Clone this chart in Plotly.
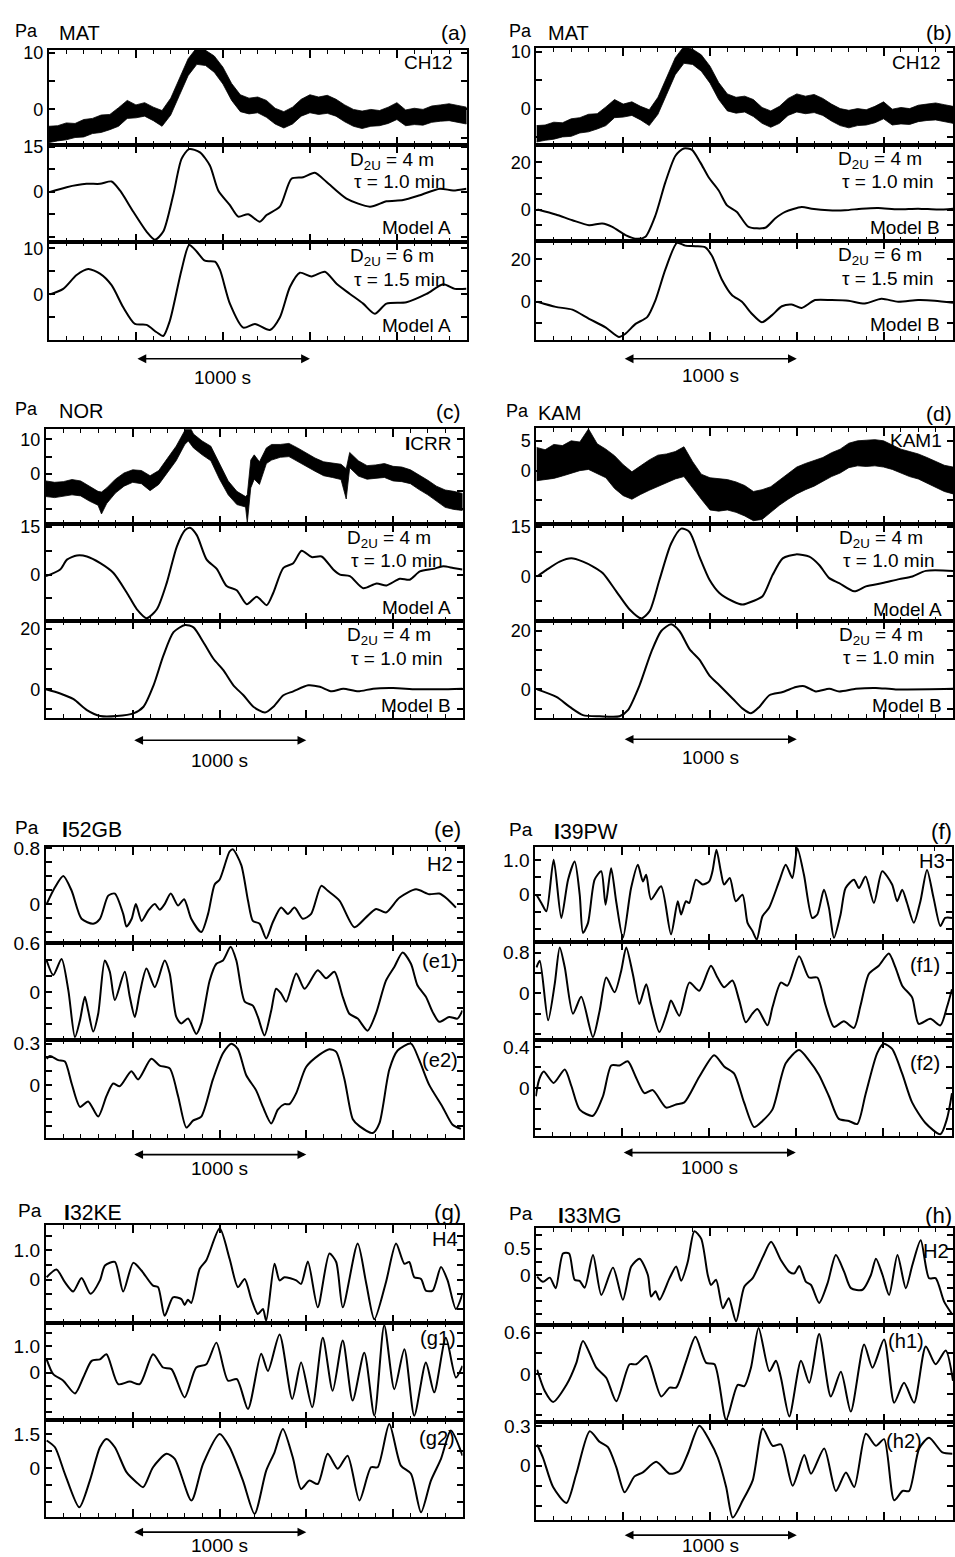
import plotly.graph_objects as go

# page geometry (reference picture is 955 x 1557)
W, H = 955, 1557
OFF = 0

# ======================= DATA (time in s, pressure in Pa) =======================
# MAT / CH12 noisy record (panels a and b): upper and lower envelope of the trace
t_mat = [0, 50, 100, 150, 200, 250, 300, 350, 400, 450, 500, 550, 600, 650, 700, 750, 800,
         850, 900, 950, 1000, 1050, 1100, 1150, 1200, 1250, 1300, 1350, 1400, 1450, 1500,
         1550, 1600, 1650, 1700, 1750, 1800, 1850, 1900, 1950, 2000, 2050, 2100, 2150,
         2200, 2250, 2300, 2350, 2400]
hi_mat = [-3.0, -2.9, -2.4, -2.5, -1.8, -1.6, -1.0, -0.9, 0.3, 1.6, 0.8, 1.2, 0.4, -0.2, 2.0,
          5.6, 9.0, 11.0, 10.5, 9.5, 7.5, 4.6, 2.6, 2.0, 2.2, 1.6, 0.2, -0.4, 0.4, 1.8, 2.6,
          2.2, 2.5, 1.8, 0.8, 0.0, -0.3, 0.0, -0.2, 0.4, 1.2, -0.1, 0.2, 0.0, 0.6, 0.8, 1.0,
          0.7, 0.4]
lo_mat = [-5.9, -5.6, -5.4, -5.0, -4.9, -4.3, -4.1, -3.6, -3.0, -1.6, -1.5, -1.2, -2.0, -3.0,
          -1.0, 2.5, 6.0, 8.0, 7.8, 6.6, 4.5, 1.6, -0.4, -0.8, -0.6, -1.4, -2.6, -3.3, -2.6,
          -1.2, -0.6, -0.9, -0.7, -1.2, -2.2, -3.0, -3.4, -3.0, -2.9, -2.5, -1.8, -2.9, -2.7,
          -2.8, -2.3, -2.1, -2.0, -2.3, -2.6]

# NOR / ICRR noisy record (panel c)
t_nor = [0, 50, 100, 150, 200, 250, 300, 320, 350, 400, 450, 500, 550, 600, 650, 700, 750, 800,
         820, 850, 900, 950, 1000, 1050, 1100, 1150, 1160, 1180, 1200, 1230, 1270, 1300, 1350,
         1400, 1450, 1500, 1550, 1600, 1650, 1700, 1730, 1750, 1800, 1850, 1900, 1950, 2000,
         2050, 2100, 2150, 2200, 2250, 2300, 2350, 2400]
hi_nor = [-2.0, -2.4, -2.2, -1.6, -2.0, -3.6, -5.0, -5.2, -4.0, -1.5, 0.3, 1.2, 1.0, -0.5, 1.0,
          4.5, 8.0, 12.5, 14.5, 11.5, 9.5, 8.0, 3.0, -2.0, -5.0, -6.5, -6.0, 4.0, 5.5, 3.5, 7.5,
          8.5, 8.5, 8.8, 7.5, 6.0, 4.6, 3.5, 3.2, 2.8, 1.5, 6.2, 3.8, 2.4, 2.6, 3.0, 2.2, 2.0,
          1.2, -0.2, -1.8, -3.5, -4.6, -5.0, -5.6]
lo_nor = [-6.5, -6.8, -6.4, -6.0, -6.3, -7.8, -9.0, -11.5, -8.5, -5.5, -3.5, -2.4, -2.8, -4.8,
          -3.0, 0.3, 3.8, 8.5, 9.5, 7.5, 5.5, 3.8, -1.5, -6.0, -8.8, -9.5, -14.0, -4.0, -1.5,
          -3.0, 3.0, 4.0, 4.8, 5.0, 3.5, 2.2, 0.8, -0.5, -1.0, -1.6, -7.2, 1.8, -0.6, -1.5,
          -1.3, -1.0, -2.0, -2.2, -2.8, -4.5, -6.0, -7.8, -9.6, -10.2, -10.5]

# KAM / KAM1 noisy record (panel d)
t_kam = [0, 50, 100, 150, 200, 250, 300, 350, 400, 450, 500, 550, 600, 650, 700, 750, 800,
         850, 900, 950, 1000, 1050, 1100, 1150, 1200, 1250, 1300, 1350, 1400, 1450, 1500,
         1550, 1600, 1650, 1700, 1750, 1800, 1850, 1900, 1950, 2000, 2050, 2100, 2150,
         2200, 2250, 2300, 2350, 2400]
hi_kam = [3.9, 3.5, 4.4, 4.2, 5.0, 4.8, 7.0, 4.5, 3.6, 2.5, 1.0, -0.2, 0.8, 1.8, 2.6, 2.8, 3.2,
          4.0, 1.5, -0.6, -1.2, -1.4, -1.5, -1.9, -2.5, -3.5, -3.2, -2.7, -1.6, -0.5, 0.6, 1.2,
          1.7, 2.2, 3.0, 3.6, 4.6, 5.0, 5.1, 5.2, 5.0, 4.3, 3.6, 3.2, 2.8, 2.2, 1.5, 0.9, 0.6]
lo_kam = [-1.7, -1.5, -1.3, -0.9, -0.5, 0.0, 0.2, -0.5, -1.2, -3.0, -4.2, -4.8, -4.0, -3.3,
          -2.6, -2.0, -1.4, -1.0, -2.8, -4.8, -6.6, -6.8, -6.6, -7.0, -7.6, -8.4, -8.2, -7.0,
          -5.8, -4.8, -3.9, -3.2, -2.6, -1.8, -1.0, -0.4, 0.5, 0.8, 0.7, 0.8, 0.6, 0.2, -0.4,
          -1.0, -1.4, -2.0, -2.8, -3.5, -3.9]

# Model waveforms and filtered records
t_a1 = [6, 102, 216, 293, 360, 408, 485, 561, 609, 657, 714, 762, 806, 868, 925, 973, 1040, 1088,
        1145, 1212, 1251, 1327, 1394, 1461, 1528, 1596, 1710, 1845, 1940, 2036, 2132, 2247,
        2323, 2400]
p_a1 = [0, 1.6, 2.7, 2.7, 3.5, 0.5, -6.6, -13.2, -15.9, -13.2, -1.1, 11, 14.3, 13.2, 8.8, 0.5,
        -4.4, -8.2, -7.4, -9.9, -7.7, -4.9, 4.4, 4.9, 6.4, 3.3, -2.2, -4.9, -3.1, -2.7, -1.1,
        1.1, 0.5, 1.1]

t_a2 = [6, 82, 159, 226, 293, 360, 427, 494, 561, 619, 657, 695, 762, 806, 849, 896, 954, 983,
        1040, 1117, 1184, 1270, 1327, 1385, 1442, 1509, 1586, 1653, 1730, 1806, 1873, 1940,
        2055, 2170, 2266, 2333, 2400]
p_a2 = [0, 1.2, 4.2, 5.5, 4.5, 2.0, -2.8, -6.4, -6.6, -8.2, -9.0, -5.7, 5.3, 10.7, 9.3, 7.3,
        7.1, 5.3, -2.0, -7.2, -6.4, -7.7, -5.0, 1.6, 4.7, 3.9, 4.9, 2.3, 0.1, -2.0, -4.2, -2.0,
        -1.7, 0.1, 2.2, 1.2, 1.2]

t_b1 = [6, 111, 207, 303, 379, 437, 513, 580, 628, 686, 743, 801, 849, 896, 944, 992, 1050,
        1098, 1155, 1222, 1318, 1375, 1433, 1528, 1586, 1682, 1777, 1873, 1969, 2084, 2199,
        2314, 2400]
p_b1 = [0, -2.1, -4.5, -6.6, -5.9, -7.3, -10.8, -12.4, -11.5, -2.4, 11.6, 22.8, 25.9, 25.3,
        20.0, 13.7, 8.1, 1.8, -1.0, -7.3, -7.7, -3.8, -1.0, 1.1, 0.4, -0.3, -0.3, 0.4, 0.7,
        0.1, 0.4, 0, 0.4]

t_b2 = [6, 111, 207, 303, 398, 475, 513, 571, 638, 686, 743, 810, 858, 916, 973, 1011, 1069,
        1126, 1184, 1241, 1299, 1356, 1414, 1471, 1528, 1605, 1701, 1797, 1892, 1988, 2084,
        2199, 2295, 2400]
p_b2 = [0, -2.4, -3.7, -8.0, -12, -16.5, -15, -10.4, -7.2, 0.8, 15.2, 27.7, 26.4, 26.1, 25.6,
        21.6, 10.4, 3.2, 0, -5.6, -9.6, -6.4, -2.1, -1.3, -2.9, 0.8, 0.8, 0.5, -0.8, 1.4, 0,
        0.8, 0.5, -0.5]

t_c1 = [0, 82, 121, 178, 236, 313, 389, 466, 524, 581, 639, 696, 754, 802, 830, 869, 926, 984,
        1041, 1099, 1157, 1214, 1272, 1310, 1368, 1425, 1473, 1531, 1588, 1655, 1694, 1751,
        1828, 1905, 1962, 2039, 2096, 2154, 2231, 2288, 2346, 2400]
p_c1 = [-0.5, 1.6, 4.7, 6.0, 5.7, 3.6, 0.5, -5.7, -10.9, -13.7, -10.9, -2.6, 8.8, 14.0, 14.7,
        12.4, 4.7, 1.8, -3.6, -4.9, -9.3, -7.0, -9.6, -5.7, 2.1, 3.6, 7.5, 5.5, 5.7, 1.6, 0,
        -0.5, -4.3, -2.8, -3.4, -1.3, -1.6, 1.0, 1.8, 2.6, 2.1, 1.6]

t_c2 = [0, 82, 159, 236, 313, 409, 504, 562, 620, 677, 735, 802, 850, 907, 965, 1022, 1080,
        1138, 1195, 1262, 1310, 1368, 1425, 1511, 1578, 1646, 1713, 1799, 1885, 2000, 2134,
        2269, 2400]
p_c2 = [0, -1.4, -3.3, -6.9, -8.9, -8.9, -8.0, -5.8, 1.3, 11.2, 18.9, 21.3, 20.5, 15.6, 10.1,
        6.3, 1.3, -2.0, -5.8, -7.7, -5.8, -2.0, -0.7, 1.3, 0.8, -0.7, 0.2, -0.7, 0.2, 0.4, 0,
        0, 0.2]

t_d1 = [4, 58, 134, 201, 268, 326, 383, 460, 537, 604, 652, 709, 776, 834, 882, 939, 997, 1054,
        1131, 1188, 1246, 1303, 1361, 1419, 1495, 1572, 1629, 1687, 1744, 1831, 1898, 1994,
        2090, 2166, 2243, 2400]
p_d1 = [0, 2.0, 4.5, 5.5, 4.5, 3.0, 1.0, -4.5, -10, -12.7, -10.5, -1.0, 10, 14.5, 13.5, 6.0,
        -1.0, -5, -7.5, -8.5, -7.5, -6.0, 0.5, 5.5, 6.7, 6.0, 3.5, -0.5, -2.0, -4.5, -3.0,
        -2.0, -0.8, 0, 1.7, 1.7]

t_d2 = [4, 115, 192, 268, 364, 479, 527, 594, 661, 719, 776, 824, 882, 939, 997, 1054, 1131,
        1188, 1236, 1284, 1342, 1419, 1495, 1543, 1610, 1687, 1744, 1840, 1955, 2070, 2400]
p_d2 = [0, -2.6, -6.0, -8.8, -9.2, -9.2, -7.1, 1.4, 12.7, 20.0, 22.3, 20.0, 13.8, 10.2, 4.7,
        1.4, -3.2, -6.6, -8.2, -6.0, -2.0, -0.9, 0.8, 1.1, -0.7, 0.2, -0.7, 0.2, 0.5, 0, 0.2]

t_e0 = [4, 52, 100, 148, 205, 272, 311, 359, 397, 445, 464, 494, 518, 551, 590, 627, 656, 684,
        719, 761, 796, 837, 895, 934, 972, 1001, 1058, 1077, 1125, 1164, 1192, 1231, 1269,
        1307, 1355, 1394, 1432, 1480, 1528, 1586, 1624, 1691, 1777, 1844, 1902, 1959, 2036,
        2132, 2208, 2266, 2314, 2362]
p_e0 = [0, 0.24, 0.40, 0.19, -0.21, -0.28, -0.21, 0.12, 0.15, -0.14, -0.32, -0.21, 0, -0.24,
        -0.09, 0, -0.08, 0, 0.15, -0.02, 0.07, -0.21, -0.40, -0.14, 0.28, 0.35, 0.75, 0.78,
        0.56, 0.05, -0.24, -0.28, -0.49, -0.26, -0.05, -0.14, -0.05, -0.21, -0.14, 0.26,
        0.19, 0.05, -0.33, -0.19, -0.07, -0.12, 0.09, 0.21, 0.14, 0.15, 0.07, -0.05]

t_e1 = [4, 42, 90, 129, 167, 196, 224, 243, 272, 301, 339, 368, 397, 454, 483, 512, 540, 579,
        627, 684, 713, 751, 780, 819, 866, 895, 943, 982, 1020, 1064, 1097, 1145, 1192, 1221,
        1259, 1298, 1326, 1355, 1384, 1442, 1490, 1566, 1614, 1662, 1710, 1748, 1796, 1853,
        1901, 1959, 2007, 2055, 2103, 2141, 2189, 2228, 2266, 2323, 2371, 2400]
p_e1 = [0.39, 0.21, 0.41, 0.02, -0.56, -0.35, -0.06, -0.23, -0.49, -0.27, 0.39, 0.25, -0.10,
        0.25, -0.06, -0.31, -0.02, 0.29, 0.06, 0.39, 0.23, -0.31, -0.39, -0.33, -0.52, -0.39,
        0.14, 0.35, 0.39, 0.56, 0.39, -0.12, -0.17, -0.31, -0.54, -0.23, 0.04, -0.02, -0.12,
        0.23, 0.04, 0.27, 0.17, 0.25, -0.06, -0.27, -0.33, -0.48, -0.27, 0.14, 0.31, 0.49,
        0.35, 0.08, -0.06, -0.25, -0.37, -0.31, -0.33, -0.23]

t_e2 = [4, 23, 71, 109, 148, 196, 243, 301, 349, 387, 425, 492, 531, 607, 655, 713, 761, 809,
        847, 895, 962, 1020, 1068, 1106, 1154, 1211, 1250, 1298, 1336, 1374, 1403, 1442, 1499,
        1576, 1633, 1672, 1720, 1768, 1806, 1883, 1921, 1978, 2026, 2103, 2151, 2208, 2285,
        2343, 2391]
p_e2 = [0.19, 0.21, 0.18, 0.17, 0.01, -0.16, -0.12, -0.23, -0.08, 0.01, -0.01, 0.10, 0.04,
        0.19, 0.14, 0.12, -0.08, -0.31, -0.26, -0.23, 0.04, 0.23, 0.30, 0.26, 0.07, -0.04,
        -0.16, -0.28, -0.18, -0.14, -0.14, -0.06, 0.13, 0.22, 0.26, 0.24, 0.04, -0.25, -0.30,
        -0.35, -0.28, 0.11, 0.25, 0.30, 0.18, 0, -0.16, -0.29, -0.32]

t_f0 = [6, 34, 63, 105, 149, 188, 226, 255, 274, 303, 341, 379, 404, 436, 465, 504, 551, 590,
        619, 638, 666, 724, 781, 820, 839, 867, 886, 925, 963, 1001, 1020, 1043, 1068, 1087,
        1120, 1154, 1193, 1222, 1251, 1275, 1308, 1346, 1404, 1442, 1480, 1509, 1547, 1595,
        1624, 1662, 1691, 1720, 1758, 1787, 1835, 1864, 1902, 1950, 1998, 2055, 2084, 2113,
        2141, 2180, 2218, 2256, 2294, 2333, 2361, 2400]
p_f0 = [0, -0.24, -0.48, 1.0, -0.67, 0.43, 0.95, 0.0, -1.10, -0.81, 0.43, 0.67, -0.29, 0.76,
        -0.19, -1.24, 0.19, 0.86, 0.38, 0.57, -0.14, 0.24, -1.14, -0.19, -0.57, -0.19, -0.24,
        0.43, 0.29, 0.38, 0.67, 1.29, 0.67, 0.29, 0.48, -0.19, 0, -0.81, -1.05, -1.29, -0.62,
        -0.38, 0.38, 0.86, 0.48, 1.33, 0.57, -0.67, -0.57, 0.14, -0.38, -1.24, -0.57, 0.19,
        0.43, 0.19, 0.52, -0.24, 0.67, 0.29, -0.19, 0.14, -0.24, -0.81, -0.19, 0.71, -0.10,
        -0.90, -0.67, -0.67]

t_f1 = [6, 25, 73, 111, 140, 169, 216, 264, 331, 370, 408, 456, 494, 523, 561, 599, 638, 666,
        714, 762, 781, 829, 887, 944, 1011, 1049, 1087, 1135, 1174, 1212, 1250, 1279, 1337,
        1366, 1414, 1452, 1519, 1576, 1624, 1672, 1720, 1777, 1835, 1873, 1921, 1978, 2036,
        2074, 2113, 2170, 2208, 2275, 2333, 2371, 2400]
p_f1 = [0.51, 0.64, -0.53, 0.18, 0.90, 0.51, -0.40, -0.07, -0.86, -0.34, 0.31, 0.02, 0.44,
        0.90, 0.38, -0.21, 0.18, -0.21, -0.76, -0.34, -0.14, -0.44, 0.21, 0.05, 0.54, 0.31,
        0.12, 0.25, -0.14, -0.57, -0.40, -0.31, -0.63, -0.27, 0.21, 0.15, 0.73, 0.31, 0.31,
        -0.24, -0.66, -0.55, -0.68, -0.24, 0.38, 0.54, 0.78, 0.51, 0.15, -0.08, -0.60, -0.50,
        -0.63, -0.27, 0.08]

t_f2 = [2, 21, 48, 105, 169, 207, 255, 331, 389, 437, 485, 532, 580, 628, 676, 753, 810, 858,
        944, 1030, 1087, 1145, 1202, 1260, 1308, 1365, 1442, 1519, 1576, 1633, 1691, 1748,
        1806, 1854, 1902, 1969, 2007, 2055, 2113, 2170, 2247, 2333, 2371, 2400]
p_f2 = [-0.08, 0.08, 0.16, 0.05, 0.18, 0.02, -0.21, -0.27, -0.08, 0.22, 0.22, 0.26, 0.10,
        -0.05, -0.02, -0.19, -0.16, -0.14, 0.11, 0.32, 0.21, 0.14, -0.14, -0.38, -0.32, -0.21,
        0.24, 0.37, 0.27, 0.13, -0.08, -0.30, -0.32, -0.35, -0.06, 0.34, 0.43, 0.38, 0.14,
        -0.14, -0.34, -0.45, -0.30, -0.05]

t_g0 = [4, 61, 109, 157, 205, 257, 311, 340, 397, 445, 503, 550, 617, 646, 684, 732, 780, 799,
        818, 837, 886, 924, 1001, 1058, 1106, 1145, 1183, 1221, 1250, 1269, 1317, 1346, 1374,
        1442, 1470, 1509, 1566, 1633, 1672, 1710, 1796, 1844, 1892, 1959, 2017, 2065, 2093,
        2122, 2161, 2189, 2228, 2276, 2314, 2362, 2400]
p_g0 = [0.08, 0.34, -0.09, -0.41, 0.05, -0.49, -0.03, 0.48, 0.60, -0.41, 0.57, 0.31, -0.21,
        -0.26, -1.24, -0.61, -0.67, -0.87, -0.69, -0.80, 0.37, 0.66, 1.75, 0.71, -0.26, 0.02,
        -0.67, -1.18, -1.01, -1.41, 0.54, -0.03, 0.08, -0.03, -0.15, 0.62, -0.95, 0.89, 0.60,
        -0.95, 1.23, -0.09, -1.36, -0.09, 1.23, 0.54, 0.60, 0.08, 0.02, -0.38, -0.38, 0.43,
        -0.03, -1.01, -0.49]

t_g1 = [4, 42, 100, 167, 215, 263, 311, 349, 416, 483, 540, 617, 675, 723, 799, 866, 924, 982,
        1049, 1100, 1164, 1240, 1279, 1346, 1419, 1470, 1534, 1595, 1652, 1710, 1767, 1834,
        1892, 1949, 2007, 2065, 2122, 2189, 2237, 2304, 2362, 2400]
p_g1 = [0.5, -0.06, -0.31, -0.79, -0.19, 0.44, 0.5, 0.69, -0.44, -0.34, -0.44, 0.69, 0.19,
        0.13, -0.94, 0.19, 0.31, 1.13, -0.31, -0.25, -1.38, 0.71, 0.06, 1.44, -1.0, 0.38,
        -1.31, 1.31, -0.69, 1.21, -1.06, 0.75, -1.63, 1.79, -0.63, 0.88, -1.63, 0.38, -0.75,
        1.31, -0.19, 0.25]

t_g2 = [4, 52, 109, 192, 253, 311, 349, 397, 464, 521, 560, 617, 694, 742, 838, 905, 1001,
        1058, 1135, 1202, 1269, 1317, 1365, 1422, 1470, 1518, 1566, 1623, 1681, 1738, 1806,
        1873, 1911, 1978, 2045, 2103, 2161, 2218, 2276, 2333, 2400]
p_g2 = [1.21, 0.91, -0.26, -1.74, -0.56, 0.91, 1.28, 0.91, -0.19, -0.63, -0.85, 0.03, 0.62,
        0.40, -1.44, 0.18, 1.5, 0.91, -0.56, -2.03, -0.12, 0.69, 1.72, 0.47, -0.93, -0.56,
        -0.71, 0.62, -0.04, 0.54, -1.44, 0.03, 0.03, 1.94, 0.10, -0.26, -1.96, -0.56, 0.40,
        1.65, 0.54]

t_h0 = [4, 38, 77, 111, 153, 188, 220, 249, 278, 326, 374, 441, 498, 546, 594, 642, 661, 686,
        709, 767, 805, 834, 872, 910, 949, 987, 1006, 1035, 1074, 1108, 1150, 1198, 1246,
        1304, 1352, 1409, 1457, 1486, 1514, 1553, 1582, 1629, 1677, 1725, 1773, 1812, 1879,
        1927, 1956, 1994, 2032, 2080, 2128, 2166, 2214, 2262, 2300, 2348, 2396]
p_h0 = [-0.03, -0.13, -0.05, -0.25, 0.41, 0.41, -0.09, -0.11, -0.24, 0.38, -0.38, 0.14, -0.47,
        0.16, 0.31, 0, -0.41, -0.31, -0.47, -0.06, 0.16, -0.11, 0.25, 0.83, 0.69, 0, -0.19,
        -0.09, -0.63, -0.44, -0.88, -0.22, -0.06, 0.34, 0.63, 0.28, 0.06, 0.03, 0.17, -0.13,
        -0.19, -0.53, -0.16, 0.38, 0.06, -0.25, -0.28, 0, 0.31, 0, -0.38, 0.38, -0.25, 0.19,
        0.66, -0.06, -0.06, -0.5, -0.75]

t_h1 = [4, 48, 96, 173, 230, 268, 345, 403, 460, 537, 575, 633, 719, 767, 805, 863, 916, 978,
        1026, 1093, 1160, 1198, 1236, 1280, 1342, 1380, 1409, 1457, 1524, 1572, 1629, 1696,
        1754, 1811, 1888, 1936, 2003, 2061, 2118, 2176, 2243, 2300, 2358, 2400]
p_h1 = [0.06, -0.25, -0.41, -0.16, 0.16, 0.48, 0.09, -0.06, -0.40, 0.14, 0.14, 0.26, -0.33,
        -0.20, -0.20, 0.19, 0.54, 0.16, 0.14, -0.67, -0.16, -0.18, 0.09, 0.67, 0.04, 0.19,
        -0.06, -0.62, 0.19, -0.13, 0.58, -0.33, 0.03, -0.55, 0.43, 0.09, 0.50, -0.42, -0.13,
        -0.42, 0.40, 0.14, 0.34, -0.1]

t_h2 = [4, 38, 96, 173, 230, 307, 364, 412, 460, 508, 565, 613, 690, 767, 824, 872, 939, 997,
        1045, 1093, 1131, 1189, 1246, 1304, 1361, 1409, 1476, 1543, 1582, 1658, 1725, 1783,
        1831, 1898, 1956, 2003, 2061, 2109, 2147, 2205, 2262, 2339, 2396]
p_h2 = [0.16, 0.06, -0.16, -0.28, -0.06, 0.26, 0.18, 0.14, -0.01, -0.20, -0.08, -0.05, 0.03,
        -0.06, -0.04, 0.09, 0.30, 0.19, 0.06, -0.16, -0.39, -0.26, -0.11, 0.28, 0.15, 0.16,
        -0.15, 0.08, -0.06, 0.13, -0.19, -0.05, -0.16, 0.24, 0.15, 0.20, -0.26, -0.19, -0.19,
        0.13, 0.21, 0.10, 0.09]

# Scale-bar (s)
scale_bar = [500, 1500]

# ======================= LAYOUT DESCRIPTION =======================
FONT = "Liberation Sans, Arial, sans-serif"
T_RANGE = [0, 2400]

D4 = "D<sub>2U</sub> = 4 m"
D6 = "D<sub>2U</sub> = 6 m"
TAU1 = "\u03c4 = 1.0 min"
TAU15 = "\u03c4 = 1.5 min"

panels = [
    dict(tag="(a)", st="MAT", x0=49, x1=467, rows=[(40, 136), (136, 233), (233, 332)],
         hdr=(13, 57, 469, 22), fs=1.0, bar=(351, 370),
         subs=[("band", t_mat, hi_mat, lo_mat, [-6.35, 10.6], [-5, 0, 5, 10], {0: "0", 10: "10"}),
               ("line", t_a1, p_a1, None, [-16.5, 15.6], [-15, -7.5, 0, 7.5, 15], {0: "0", 15: "15"}),
               ("line", t_a2, p_a2, None, [-9.85, 11.46], [-5, 0, 5, 10], {0: "0", 10: "10"})],
         labels=[(0, "CH12", "r", 12, 13), (1, D4, "l", 119, 16), (1, TAU1, "l", 115, 37),
                 (1, "Model A", "rb", 14, 14), (2, D6, "l", 119, 16), (2, TAU15, "l", 115, 38),
                 (2, "Model A", "rb", 14, 14)]),
    dict(tag="(b)", st="MAT", x0=537, x1=954, rows=[(38, 136), (136, 232), (232, 332)],
         hdr=(508, 547, 955, 22), fs=1.0, bar=(351, 368),
         subs=[("band", t_mat, hi_mat, lo_mat, [-6.45, 10.75], [-5, 0, 5, 10], {0: "0", 10: "10"}),
               ("line", t_b1, p_b1, None, [-13.1, 27.3], [-6.67, 0, 6.67, 13.33, 20], {0: "0", 20: "20"}),
               ("line", t_b2, p_b2, None, [-17.9, 28.8], [-10, 0, 10, 20], {0: "0", 20: "20"})],
         labels=[(0, "CH12", "r", 10, 15), (1, D4, "l", 117, 15), (1, TAU1, "l", 113, 37),
                 (1, "Model B", "rb", 11, 13), (2, D6, "l", 117, 16), (2, TAU15, "l", 113, 38),
                 (2, "Model B", "rb", 11, 15)]),
    dict(tag="(c)", st="NOR", x0=46, x1=463, rows=[(422, 517), (517, 615), (615, 713)],
         hdr=(13, 57, 463, 403), fs=1.0, bar=(735, 755),
         subs=[("band", t_nor, hi_nor, lo_nor, [-14.3, 12.86], [-10, -5, 0, 5, 10], {0: "0", 10: "10"}),
               ("line", t_c1, p_c1, None, [-14.6, 16.0], [-7.5, 0, 7.5, 15], {0: "0", 15: "15"}),
               ("line", t_c2, p_c2, None, [-9.67, 22.6], [-6.67, 0, 6.67, 13.33, 20], {0: "0", 20: "20"})],
         labels=[(0, "<b>I</b>CRR", "r", 10, 14), (1, D4, "l", 118, 15), (1, TAU1, "l", 114, 37),
                 (1, "Model A", "rb", 10, 14), (2, D4, "l", 118, 15), (2, TAU1, "l", 114, 38),
                 (2, "Model B", "rb", 10, 13)]),
    dict(tag="(d)", st="KAM", x0=537, x1=954, rows=[(421, 517), (517, 615), (615, 713)],
         hdr=(505, 537, 955, 405), fs=1.0, bar=(734, 752),
         subs=[("band", t_kam, hi_kam, lo_kam, [-8.9, 7.1], [-5, 0, 5], {0: "0", 5: "5"}),
               ("line", t_d1, p_d1, None, [-13.5, 16.0], [-7.5, 0, 7.5, 15], {0: "0", 15: "15"}),
               ("line", t_d2, p_d2, None, [-9.94, 23.4], [-6.67, 0, 6.67, 13.33, 20], {0: "0", 20: "20"})],
         labels=[(0, "KAM1", "r", 9, 12), (1, D4, "l", 116, 15), (1, TAU1, "l", 112, 37),
                 (1, "Model A", "rb", 9, 12), (2, D4, "l", 116, 15), (2, TAU1, "l", 112, 37),
                 (2, "Model B", "rb", 9, 13)]),
    dict(tag="(e)", st="<b>I</b>52GB", x0=46, x1=463, rows=[(842, 939), (939, 1037), (1037, 1135)],
         hdr=(13, 60, 463, 824), fs=1.06, bar=(1152, 1166),
         subs=[("line", t_e0, p_e0, None, [-0.555, 0.82], [-0.4, -0.2, 0, 0.2, 0.4, 0.6, 0.8], {0: "0", 0.8: "0.8"}),
               ("line", t_e1, p_e1, None, [-0.6, 0.608], [-0.4, -0.2, 0, 0.2, 0.4, 0.6], {0: "0", 0.6: "0.6"}),
               ("line", t_e2, p_e2, None, [-0.384, 0.324], [-0.3, -0.2, -0.1, 0, 0.1, 0.2, 0.3], {0: "0", 0.3: "0.3"})],
         labels=[(0, "H2", "r", 8, 18), (1, "(e1)", "r", 3, 18), (2, "(e2)", "r", 3, 20)]),
    dict(tag="(f)", st="<b>I</b>39PW", x0=536, x1=953, rows=[(842, 938), (938, 1037), (1037, 1133)],
         hdr=(508, 553, 955, 826), fs=1.06, bar=(1150, 1165),
         subs=[("line", t_f0, p_f0, None, [-1.36, 1.38], [-1, -0.5, 0, 0.5, 1], {0: "0", 1: "1.0"}),
               ("line", t_f1, p_f1, None, [-0.924, 1.008], [-0.8, -0.4, 0, 0.4, 0.8], {0: "0", 0.8: "0.8"}),
               ("line", t_f2, p_f2, None, [-0.464, 0.464], [-0.4, -0.2, 0, 0.2, 0.4], {0: "0", 0.4: "0.4"})],
         labels=[(0, "H3", "r", 5, 14), (1, "(f1)", "r", 10, 23), (2, "(f2)", "r", 10, 23)]),
    dict(tag="(g)", st="<b>I</b>32KE", x0=46, x1=463, rows=[(1223, 1321), (1321, 1419), (1419, 1517)],
         hdr=(16, 62, 463, 1209), fs=1.06, bar=(1532, 1545),
         subs=[("line", t_g0, p_g0, None, [-1.47, 1.86], [-1, -0.5, 0, 0.5, 1, 1.5], {0: "0", 1: "1.0"}),
               ("line", t_g1, p_g1, None, [-1.79, 1.89], [-1.5, -1, -0.5, 0, 0.5, 1, 1.5], {0: "0", 1: "1.0"}),
               ("line", t_g2, p_g2, None, [-2.18, 2.12], [-1.5, -0.75, 0, 0.75, 1.5], {0: "0", 1.5: "1.5"})],
         labels=[(0, "H4", "r", 3, 14), (1, "(g1)", "r", 5, 16), (2, "(g2)", "r", 6, 18)]),
    dict(tag="(h)", st="<b>I</b>33MG", x0=537, x1=954, rows=[(1226, 1323), (1323, 1421), (1421, 1520)],
         hdr=(508, 557, 955, 1212), fs=1.06, bar=(1535, 1545),
         subs=[("line", t_h0, p_h0, None, [-0.94, 0.89], [-0.75, -0.5, -0.25, 0, 0.25, 0.5, 0.75], {0: "0", 0.5: "0.5"}),
               ("line", t_h1, p_h1, None, [-0.70, 0.72], [-0.6, -0.3, 0, 0.3, 0.6], {0: "0", 0.6: "0.6"}),
               ("line", t_h2, p_h2, None, [-0.41, 0.33], [-0.3, -0.15, 0, 0.15, 0.3], {0: "0", 0.3: "0.3"})],
         labels=[(0, "H2", "r", 2, 23), (1, "(h1)", "r", 27, 17), (2, "(h2)", "r", 29, 19)]),
]


def fx(p):
    return (p - OFF) / W


def fy(p):
    return 1 - (p - OFF) / H


fig = go.Figure()
layout = {}
annotations = []
idx = 0
for P in panels:
    s = P["fs"]
    last_axis = ""
    for r, (kind, t, a, b, yr, tv, lab) in enumerate(P["subs"]):
        idx += 1
        sfx = "" if idx == 1 else str(idx)
        top, bot = P["rows"][r]
        layout["xaxis" + sfx] = dict(
            domain=[fx(P["x0"]), min(fx(P["x1"]), 1.0)], range=T_RANGE, anchor="y" + sfx,
            showline=True, linecolor="black", linewidth=2, mirror="ticks",
            ticks="inside", ticklen=8, tickwidth=1.5, tickcolor="black",
            tickvals=[0, 500, 1000, 1500, 2000], showticklabels=False,
            showgrid=False, zeroline=False,
            minor=dict(ticks="inside", ticklen=4, tickwidth=1.3, tickcolor="black",
                       dtick=100, tick0=0, showgrid=False))
        major = [v for v in tv if v in lab]
        minor_v = [v for v in tv if v not in lab]
        layout["yaxis" + sfx] = dict(
            domain=[fy(bot), fy(top)], range=yr, anchor="x" + sfx,
            showline=True, linecolor="black", linewidth=2, mirror="ticks",
            ticks="inside", ticklen=6, tickwidth=1.5, tickcolor="black",
            tickmode="array", tickvals=major, ticktext=[lab[v] for v in major],
            tickfont=dict(family=FONT, size=18 * s, color="black"),
            minor=dict(ticks="inside", ticklen=6, tickwidth=1.5, tickcolor="black",
                       tickmode="array", tickvals=minor_v, showgrid=False),
            showgrid=False, zeroline=False)
        xa, ya = "x" + sfx, "y" + sfx
        if kind == "band":
            fig.add_trace(go.Scatter(
                x=list(t) + list(t)[::-1], y=list(a) + list(b)[::-1], mode="lines",
                fill="toself", fillcolor="black", line=dict(color="black", width=0.8),
                xaxis=xa, yaxis=ya, showlegend=False, hoverinfo="skip"))
        else:
            fig.add_trace(go.Scatter(
                x=t, y=a, mode="lines",
                line=dict(color="black", width=2, shape="spline", smoothing=0.7),
                xaxis=xa, yaxis=ya, showlegend=False, hoverinfo="skip"))
        last_axis = sfx

    # header: "Pa", station, panel tag
    pa_x, st_x, tag_x, hy = P["hdr"]
    annotations.append(dict(text="Pa", x=fx(pa_x), y=fy(hy - 1), xref="paper", yref="paper",
                            xanchor="left", yanchor="middle", showarrow=False,
                            font=dict(family=FONT, size=18 * s, color="black")))
    annotations.append(dict(text=P["st"], x=fx(st_x), y=fy(hy + 1), xref="paper", yref="paper",
                            xanchor="left", yanchor="middle", showarrow=False,
                            font=dict(family=FONT, size=20 * s, color="black")))
    annotations.append(dict(text=P["tag"], x=fx(tag_x), y=fy(hy + 1), xref="paper", yref="paper",
                            xanchor="right", yanchor="middle", showarrow=False,
                            font=dict(family=FONT, size=21 * s, color="black")))
    # in-plot labels
    for (row, txt, mode, dx, dy) in P["labels"]:
        top, bot = P["rows"][row]
        xp = P["x1"] - dx
        if mode == "l":
            xa_, yp = "left", top + dy
        elif mode == "r":
            xa_, yp = "right", top + dy
        else:
            xa_, yp = "right", bot - dy
        annotations.append(dict(text=txt, x=fx(xp), y=fy(yp), xref="paper", yref="paper",
                                xanchor=xa_, yanchor="middle", showarrow=False,
                                font=dict(family=FONT, size=19 * s, color="black")))
    # 1000 s scale bar
    bar_y, txt_y = P["bar"]
    annotations.append(dict(text="", x=scale_bar[1], y=fy(bar_y), xref="x" + last_axis,
                            yref="paper", ax=scale_bar[0], ay=0, axref="x" + last_axis,
                            ayref="pixel", showarrow=True, arrowhead=2, arrowside="end+start",
                            arrowsize=1.1, arrowwidth=1.6, arrowcolor="black", standoff=0,
                            startstandoff=0))
    annotations.append(dict(text="%d s" % (scale_bar[1] - scale_bar[0]),
                            x=(scale_bar[0] + scale_bar[1]) / 2, y=fy(txt_y),
                            xref="x" + last_axis, yref="paper", showarrow=False,
                            xanchor="center", yanchor="middle",
                            font=dict(family=FONT, size=19, color="black")))

fig.update_layout(**layout)
fig.update_layout(width=W, height=H, margin=dict(l=0, r=0, t=0, b=0),
                  paper_bgcolor="white", plot_bgcolor="white",
                  annotations=annotations, showlegend=False,
                  font=dict(family=FONT, color="black"))

fig.write_html("out.html", config={"displayModeBar": False},
               post_script="document.body.style.margin='0';"
                           "document.body.style.overflow='hidden';")
